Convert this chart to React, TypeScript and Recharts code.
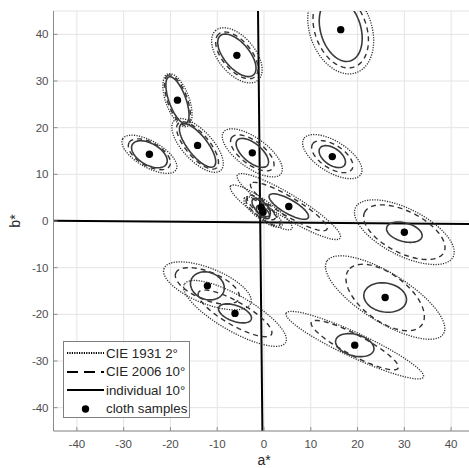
import { ScatterChart, Scatter, XAxis, YAxis, CartesianGrid, ReferenceLine, Legend } from "recharts"

// cloth sample colour coordinates (a*, b*)
const sampleA = [16.4, -5.8, -18.5, -14.2, -24.5, -2.5, 14.6, -0.6, -0.2, 5.3, 30.0, 25.9, 19.4, -12.1, -6.2]
const sampleB = [41.0, 35.5, 25.9, 16.2, 14.3, 14.6, 13.8, 2.9, 1.9, 3.1, -2.4, -16.4, -26.6, -13.9, -19.8]

// ellipse per sample: [semi-major, semi-minor, angle in degrees]
const individual10 = [
  [7.0, 4.3, 107], [5.5, 2.7, 130], [5.3, 1.8, 110], [5.7, 2.1, 128], [4.2, 2.3, 150],
  [4.2, 2.0, 140], [3.2, 1.8, 145], [2.5, 1.2, 135], [1.8, 0.9, 135], [4.8, 1.5, 150],
  [3.9, 2.0, 165], [4.6, 3.1, 170], [4.2, 2.3, 165], [3.7, 2.9, 160], [3.7, 1.7, 160],
]
const cie2006 = [
  [8.5, 5.5, 110], [6.0, 3.1, 130], [5.7, 2.1, 110], [6.3, 2.5, 130], [5.0, 2.5, 150],
  [5.5, 2.5, 143], [5.0, 2.5, 147], [3.8, 1.3, 140], [4.5, 1.3, 142], [9.5, 2.0, 149],
  [9.5, 4.45, 153], [9.8, 5.0, 143], [10.5, 2.2, 152], [7.3, 3.0, 158], [9.0, 2.5, 150],
]
const cie1931 = [
  [9.8, 6.6, 110], [7.0, 3.9, 130], [6.0, 2.5, 110], [7.3, 3.2, 133], [6.6, 2.8, 150],
  [7.6, 3.2, 144], [7.2, 3.3, 148], [8.0, 1.8, 145], [5.0, 1.6, 143], [12.9, 2.5, 148.5],
  [11.7, 5.0, 153], [14.7, 5.2, 148], [16.2, 2.6, 155], [10.0, 3.8, 158], [12.5, 3.8, 150],
]

const axisTicks = [-40, -30, -20, -10, 0, 10, 20, 30, 40]
const legendLabels = ["CIE 1931 2°", "CIE 2006 10°", "individual 10°", "cloth samples"]

const samples = sampleA.map((a, i) => ({ a, b: sampleB[i] }))

// outline of an ellipse around sample i
function outline(i: number, [ra, rb, deg]: number[]) {
  const t = (deg * Math.PI) / 180
  const pts = []
  for (let k = 0; k <= 72; k++) {
    const u = (k / 72) * 2 * Math.PI
    const ex = ra * Math.cos(u)
    const ey = rb * Math.sin(u)
    pts.push({
      a: sampleA[i] + ex * Math.cos(t) - ey * Math.sin(t),
      b: sampleB[i] + ex * Math.sin(t) + ey * Math.cos(t),
    })
  }
  return pts
}

const observers = [
  { key: "cie1931", params: cie1931, stroke: "#2e2e2e", width: 1.3, dash: "1.2 1.3" },
  { key: "cie2006", params: cie2006, stroke: "#333333", width: 1.4, dash: "5 4" },
  { key: "ind", params: individual10, stroke: "#3a3a3a", width: 1.6, dash: undefined },
]

const GRAY = "#8c8c8c"
const TICK_TEXT = "#4d4d4d"

const BottomTick = ({ x, y, payload }: any) => (
  <g>
    <line x1={x} x2={x} y1={y - 9} y2={y - 13} stroke={GRAY} />
    <text x={x} y={y} dy="0.71em" textAnchor="middle" fill={TICK_TEXT} fontSize={11.5}>
      {payload.value}
    </text>
  </g>
)

const LeftTick = ({ x, y, payload }: any) => (
  <g>
    <line x1={x + 5} x2={x + 9} y1={y} y2={y} stroke={GRAY} />
    <text x={x} y={y} dy="0.355em" textAnchor="end" fill={TICK_TEXT} fontSize={11.5}>
      {payload.value}
    </text>
  </g>
)

const TopTick = ({ x, y }: any) => <line x1={x} x2={x} y1={y} y2={y + 4} stroke={GRAY} />

function LegendBox() {
  const samplesSvg = [
    <line key="d" x1={0} x2={37} y1={5} y2={5} stroke="#000" strokeWidth={2} strokeDasharray="1.2 1.2" />,
    <line key="s" x1={0} x2={37} y1={5} y2={5} stroke="#000" strokeWidth={2} strokeDasharray="11 6" />,
    <line key="l" x1={0} x2={37} y1={5} y2={5} stroke="#000" strokeWidth={2} />,
    <circle key="c" cx={18.5} cy={5} r={3.7} fill="#000" />,
  ]
  return (
    <div
      style={{
        border: "1px solid #7f7f7f",
        background: "#fff",
        boxSizing: "border-box",
        width: 127,
        height: 77,
        padding: "2px 0 0 3px",
      }}
    >
      {legendLabels.map((label, i) => (
        <div key={label} style={{ display: "flex", alignItems: "center", height: 18.5 }}>
          <svg width={38} height={10} style={{ flex: "none" }}>
            {samplesSvg[i]}
          </svg>
          <span style={{ marginLeft: 1, fontSize: 13.3, color: "#262626", whiteSpace: "nowrap" }}>{label}</span>
        </div>
      ))}
    </div>
  )
}

export default function App() {
  return (
    <div
      style={{
        position: "absolute",
        left: 0,
        top: 0,
        width: 469,
        height: 468,
        overflow: "hidden",
        background: "#fff",
        fontFamily: "'Liberation Sans', Arial, sans-serif",
      }}
    >
      <ScatterChart width={480} height={468} margin={{ top: 11, right: 5.5, bottom: 0, left: 0 }}>
        <CartesianGrid stroke="#e4e4e4" />
        <XAxis
          type="number"
          dataKey="a"
          domain={[-45, 45]}
          ticks={axisTicks}
          allowDataOverflow
          height={37}
          tickSize={0}
          tickMargin={9}
          tick={BottomTick}
          stroke={GRAY}
          label={{ value: "a*", position: "insideBottom", offset: 3, fill: "#262626", fontSize: 14 }}
        />
        <XAxis
          xAxisId="top"
          orientation="top"
          type="number"
          dataKey="a"
          domain={[-45, 45]}
          ticks={axisTicks}
          allowDataOverflow
          height={0}
          tickSize={0}
          tickMargin={0}
          tick={TopTick}
          stroke={GRAY}
        />
        <YAxis
          type="number"
          dataKey="b"
          domain={[-45, 45]}
          ticks={axisTicks}
          allowDataOverflow
          width={53.5}
          tickSize={0}
          tickMargin={5}
          tick={LeftTick}
          stroke={GRAY}
          label={{
            value: "b*",
            angle: -90,
            position: "insideLeft",
            offset: 15,
            fill: "#262626",
            fontSize: 14,
            style: { textAnchor: "middle" },
          }}
        />
        {observers.map((o) =>
          o.params.map((p, i) => (
            <Scatter
              key={`${o.key}-${i}`}
              data={outline(i, p)}
              fill="none"
              line={{ stroke: o.stroke, strokeWidth: o.width, strokeDasharray: o.dash }}
              shape={() => <g />}
              legendType="none"
              isAnimationActive={false}
            />
          ))
        )}
        <ReferenceLine
          segment={[{ x: -45, y: 0.05 }, { x: 45, y: -0.65 }]}
          stroke="#000"
          strokeWidth={2}
        />
        <ReferenceLine
          segment={[{ x: -1.28, y: 45 }, { x: -0.34, y: -45 }]}
          stroke="#000"
          strokeWidth={2}
        />
        <Scatter
          data={samples}
          shape={(p: any) => <circle cx={p.cx} cy={p.cy} r={3.7} fill="#000" />}
          isAnimationActive={false}
        />
        <Legend
          layout="vertical"
          align="center"
          verticalAlign="middle"
          wrapperStyle={{ left: 63, top: 341, width: 127, height: 77 }}
          content={LegendBox}
        />
      </ScatterChart>
    </div>
  )
}
